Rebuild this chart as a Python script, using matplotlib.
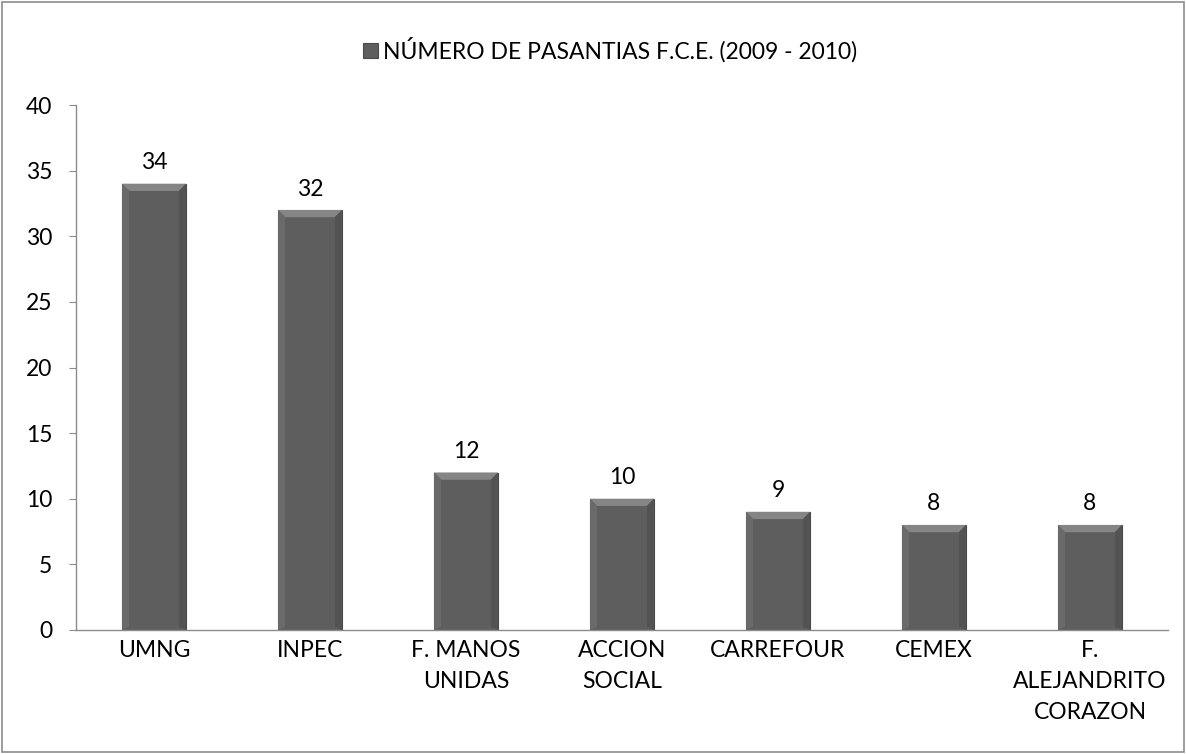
import matplotlib
matplotlib.use("Agg")
import matplotlib.pyplot as plt
from matplotlib.patches import Rectangle, Polygon
import numpy as np

categories = ["UMNG", "INPEC", "F. MANOS\nUNIDAS", "ACCION\nSOCIAL", "CARREFOUR", "CEMEX", "F.\nALEJANDRITO\nCORAZON"]
values = [34, 32, 12, 10, 9, 8, 8]
series_name = "NÚMERO DE PASANTIAS F.C.E. (2009 - 2010)"
yticks = [0, 5, 10, 15, 20, 25, 30, 35, 40]

plt.rcParams['font.family'] = ['Lato', 'DejaVu Sans']
FS = 16.5

fig = plt.figure(figsize=(11.86, 7.54), dpi=100)
ax = fig.add_axes([76/1186, 1 - 630/754, (1168-76)/1186, (630-105)/754])

x = np.arange(len(categories))
width = 0.41
bars = ax.bar(x, values, width=width, color="#5e5e5e", edgecolor="#4a4a4a", linewidth=0.8,
              label=series_name, zorder=2)

# bevel on top of each bar
bev_x = 0.045
bev_y = 0.55
for xi, v in zip(x, values):
    l, r = xi - width/2, xi + width/2
    ax.add_patch(Polygon([[l, v], [r, v], [r - bev_x, v - bev_y], [l + bev_x, v - bev_y]],
                         closed=True, facecolor="#858585", edgecolor="none", zorder=3))
    ax.add_patch(Polygon([[l, v], [l + bev_x, v - bev_y], [l + bev_x, 0.25], [l, 0]],
                         closed=True, facecolor="#6a6a6a", edgecolor="none", zorder=3))
    ax.add_patch(Polygon([[r, v], [r - bev_x, v - bev_y], [r - bev_x, 0.25], [r, 0]],
                         closed=True, facecolor="#535353", edgecolor="none", zorder=3))
    ax.text(xi, v + 0.8, str(v), ha="center", va="bottom", fontsize=FS, color="black")

ax.set_xlim(-0.5, len(categories) - 0.5)
ax.set_ylim(0, 40)
ax.set_yticks(yticks)
ax.set_yticklabels([str(t) for t in yticks], fontsize=FS)
ax.set_xticks(x)
ax.set_xticklabels(categories, fontsize=FS, linespacing=1.6)
ax.tick_params(axis="x", length=0, pad=7)
ax.tick_params(axis="y", length=5, direction="out", color="#8c8c8c", pad=12)
for s in ["top", "right"]:
    ax.spines[s].set_visible(False)
ax.spines["left"].set_color("#8c8c8c")
ax.spines["bottom"].set_color("#8c8c8c")
ax.spines["left"].set_linewidth(1.0)
ax.spines["bottom"].set_linewidth(1.0)

leg = fig.legend(handles=[bars], labels=[series_name], loc="center",
                 bbox_to_anchor=(610/1186, 1 - 50/754), frameon=False, fontsize=FS,
                 handlelength=0.65, handleheight=0.65, handletextpad=0.2)

# outer frame
fig.patches.append(Rectangle((0.002, 0.002), 0.996, 0.996, transform=fig.transFigure,
                             fill=False, edgecolor="#8c8c8c", linewidth=1.2))

fig.savefig("out.png", dpi=100)
